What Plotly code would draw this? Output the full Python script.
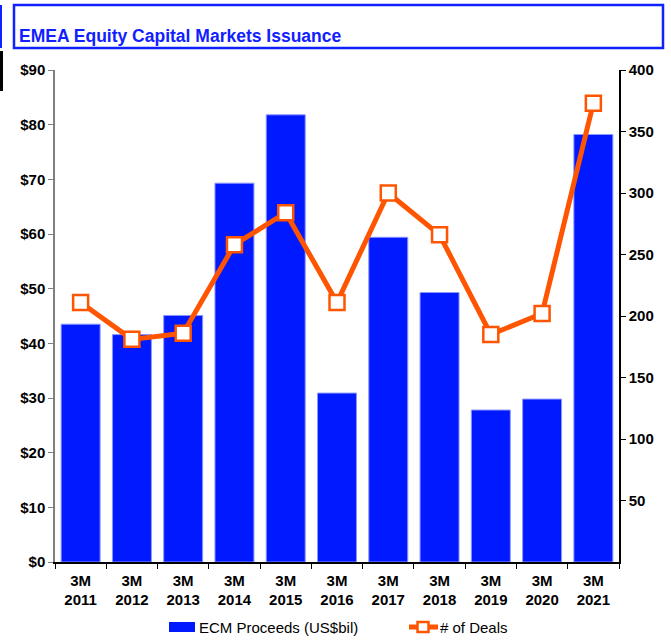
import plotly.graph_objects as go

categories = ["3M<br>2011", "3M<br>2012", "3M<br>2013", "3M<br>2014", "3M<br>2015", "3M<br>2016",
              "3M<br>2017", "3M<br>2018", "3M<br>2019", "3M<br>2020", "3M<br>2021"]
proceeds = [43.5, 41.6, 45.1, 69.3, 81.8, 30.9, 59.4, 49.3, 27.8, 29.8, 78.2]
deals = [211, 181, 186, 258, 284, 211, 300, 266, 185, 202, 373]
left_ticks = [0, 10, 20, 30, 40, 50, 60, 70, 80, 90]
left_tick_labels = ["$0", "$10", "$20", "$30", "$40", "$50", "$60", "$70", "$80", "$90"]
right_ticks = [50, 100, 150, 200, 250, 300, 350, 400]
bar_name = "ECM Proceeds (US$bil)"
line_name = "# of Deals"

W, H = 671, 640
L, R, T, B = 55, 619, 70, 562

def px(x):
    return (x - L) / (R - L)

def py(y):
    return (B - y) / (B - T)

FONT = "Arial, Liberation Sans, sans-serif"
BLUE = "#0019FF"
ORANGE = "#FF5500"
TITLE_BLUE = "#1020FF"

fig = go.Figure()
fig.add_trace(go.Bar(
    x=categories, y=proceeds, name=bar_name,
    marker=dict(color=BLUE, line=dict(color="#8C96FF", width=1)),
    width=0.76,
))
fig.add_trace(go.Scatter(
    x=categories, y=deals, name=line_name, yaxis="y2",
    mode="lines+markers",
    line=dict(color=ORANGE, width=5),
    marker=dict(symbol="square", size=15, color="white", line=dict(color=ORANGE, width=2.5)),
))

tickfont = dict(family=FONT, size=15, color="black", weight="bold")

fig.update_layout(
    width=W, height=H,
    margin=dict(l=L, r=W - R, t=T, b=H - B, autoexpand=False),
    paper_bgcolor="white", plot_bgcolor="white",
    font=dict(family=FONT, size=15, color="black"),
    showlegend=False,
    bargap=0.24,
    xaxis=dict(
        range=[-0.5, len(categories) - 0.5],
        showline=True, linecolor="black", linewidth=1.5,
        ticks="outside", ticklen=5, tickcolor="black", tickson="boundaries",
        tickfont=tickfont, ticklabelstandoff=4,
        showgrid=False, zeroline=False, automargin=False,
    ),
    yaxis=dict(
        range=[0, 90], tickvals=left_ticks, ticktext=left_tick_labels,
        showline=True, linecolor="#808080", linewidth=1.5,
        ticks="outside", ticklen=5, tickcolor="#808080",
        tickfont=tickfont, showgrid=False, zeroline=False, automargin=False,
    ),
    yaxis2=dict(
        range=[0, 400], tickvals=right_ticks, overlaying="y", side="right",
        showline=True, linecolor="black", linewidth=1.5,
        ticks="outside", ticklen=5, tickcolor="black",
        tickfont=tickfont, showgrid=False, zeroline=False, automargin=False,
    ),
    shapes=[
        # title box
        dict(type="rect", xref="paper", yref="paper",
             x0=px(14), x1=px(663), y0=py(48), y1=py(5),
             line=dict(color=TITLE_BLUE, width=2.5), fillcolor="rgba(0,0,0,0)"),
        dict(type="rect", xref="paper", yref="paper",
             x0=px(0), x1=px(2), y0=py(48), y1=py(5),
             line=dict(width=0), fillcolor=TITLE_BLUE),
        dict(type="rect", xref="paper", yref="paper",
             x0=px(0), x1=px(3), y0=py(91), y1=py(51),
             line=dict(width=0), fillcolor="black"),
        # legend: bar patch
        dict(type="rect", xref="paper", yref="paper",
             x0=px(169), x1=px(195), y0=py(632), y1=py(622),
             line=dict(width=0), fillcolor=BLUE),
        # legend: line symbol
        dict(type="line", xref="paper", yref="paper",
             x0=px(409), x1=px(438), y0=py(627), y1=py(627),
             line=dict(color=ORANGE, width=5)),
        dict(type="rect", xref="paper", yref="paper",
             x0=px(417.5), x1=px(428.5), y0=py(632), y1=py(622),
             line=dict(color=ORANGE, width=2.5), fillcolor="white"),
    ],
    annotations=[
        dict(text="<b>EMEA Equity Capital Markets Issuance</b>", xref="paper", yref="paper",
             x=px(17), y=py(36), xanchor="left", yanchor="middle", showarrow=False,
             font=dict(family=FONT, size=17.5, color=TITLE_BLUE)),
        dict(text=bar_name, xref="paper", yref="paper",
             x=px(197), y=py(627), xanchor="left", yanchor="middle", showarrow=False,
             font=dict(family=FONT, size=15, color="black")),
        dict(text=line_name, xref="paper", yref="paper",
             x=px(438), y=py(627), xanchor="left", yanchor="middle", showarrow=False,
             font=dict(family=FONT, size=15, color="black")),
    ],
)

fig.write_html(
    "out.html",
    config={"displayModeBar": False},
    post_script="document.body.style.margin='0';document.body.style.overflow='hidden';",
)
